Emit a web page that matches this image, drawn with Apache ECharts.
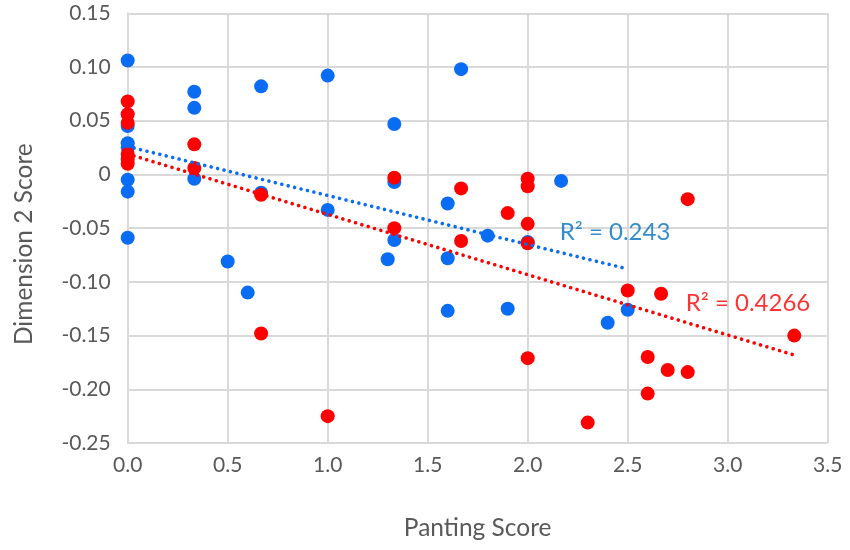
<!DOCTYPE html>
<html>
<head>
<meta charset="utf-8">
<script src="https://cdn.jsdelivr.net/npm/echarts@6/dist/echarts.min.js"></script>
<style>html,body{margin:0;padding:0;background:#fff}#c{width:850px;height:550px}</style>
</head>
<body>
<div id="c"></div>
<script>
var blueX = [0,0,0,0,0,0,0,0.333,0.333,0.333,0.5,0.6,0.667,0.667,1.0,1.0,1.3,1.333,1.333,1.333,1.6,1.6,1.6,1.667,1.8,1.9,2.0,2.167,2.4,2.5];
var blueY = [0.106,0.045,0.029,0.025,-0.005,-0.016,-0.059,0.077,0.062,-0.004,-0.081,-0.110,0.082,-0.017,0.092,-0.033,-0.079,0.047,-0.007,-0.061,-0.027,-0.078,-0.127,0.098,-0.057,-0.125,-0.063,-0.006,-0.138,-0.126];
var redX = [0,0,0,0,0,0,0.333,0.333,0.667,0.667,1.0,1.333,1.333,1.667,1.667,1.9,2.0,2.0,2.0,2.0,2.0,2.3,2.5,2.6,2.6,2.667,2.7,2.8,2.8,3.333];
var redY = [0.068,0.056,0.048,0.019,0.014,0.010,0.028,0.006,-0.019,-0.148,-0.225,-0.003,-0.050,-0.013,-0.062,-0.036,-0.004,-0.011,-0.046,-0.064,-0.171,-0.231,-0.108,-0.170,-0.204,-0.111,-0.182,-0.023,-0.184,-0.150];
var blueTrendX = [0, 2.5];
var blueTrendY = [0.026, -0.088];
var redTrendX = [0, 3.33];
var redTrendY = [0.019, -0.168];
var blueLabel = {x: 2.16, y: -0.054, text: 'R² = 0.243'};
var redLabel = {x: 2.79, y: -0.120, text: 'R² = 0.4266'};
var xTicks = {min: 0, max: 3.5, interval: 0.5};
var yTicks = {min: -0.25, max: 0.15, interval: 0.05};

function zip(a, b) { return a.map(function (v, i) { return [v, b[i]]; }); }

var FONT = 'Lato';
var TXT = '#595959';
var GRID = '#d9d9d9';
var BLUE = '#0a6cf2';
var RED = '#ff0000';
var dotStyle = function (c) {
  return { color: c, width: 3.6, type: [0.01, 6.6], cap: 'round' };
};

var chart = echarts.init(document.getElementById('c'), null, {renderer: 'canvas'});
chart.setOption({
  animation: false,
  backgroundColor: '#fff',
  grid: { left: 127.7, right: 22.3, top: 13.3, bottom: 107, containLabel: false },
  xAxis: {
    type: 'value', min: xTicks.min, max: xTicks.max, interval: xTicks.interval,
    name: 'Panting Score', nameLocation: 'middle', nameGap: 73,
    nameTextStyle: { fontFamily: FONT, fontSize: 24.5, color: TXT },
    axisLine: { show: true, lineStyle: { color: GRID, width: 2 } },
    axisTick: { show: false },
    splitLine: { show: true, lineStyle: { color: GRID, width: 2 } },
    axisLabel: { fontFamily: FONT, fontSize: 21, color: TXT, margin: 12,
      formatter: function (v) { return v.toFixed(1); } }
  },
  yAxis: {
    type: 'value', min: yTicks.min, max: yTicks.max, interval: yTicks.interval,
    name: 'Dimension 2 Score', nameLocation: 'middle', nameGap: 91,
    nameTextStyle: { fontFamily: FONT, fontSize: 24.5, color: TXT, padding: [0, 32, 0, 0] },
    axisLine: { show: true, onZero: false, lineStyle: { color: GRID, width: 2 } },
    axisTick: { show: false },
    splitLine: { show: true, lineStyle: { color: GRID, width: 2 } },
    axisLabel: { fontFamily: FONT, fontSize: 21, color: TXT, margin: 17,
      formatter: function (v) { return Math.abs(v) < 1e-9 ? '0' : v.toFixed(2); } }
  },
  series: [
    { type: 'scatter', data: zip(blueX, blueY), symbolSize: 14,
      itemStyle: { color: BLUE, opacity: 1 }, z: 2 },
    { type: 'scatter', data: zip(redX, redY), symbolSize: 14,
      itemStyle: { color: RED, opacity: 1 }, z: 3 },
    { type: 'line', data: zip(blueTrendX, blueTrendY), symbol: 'none',
      lineStyle: dotStyle(BLUE), z: 4 },
    { type: 'line', data: zip(redTrendX, redTrendY), symbol: 'none',
      lineStyle: dotStyle(RED), z: 4 },
    { type: 'scatter', data: [[blueLabel.x, blueLabel.y]], symbolSize: 0, z: 5,
      label: { show: true, position: 'right', distance: 0, formatter: blueLabel.text,
        fontFamily: FONT, fontSize: 24, color: '#0070c0' } },
    { type: 'scatter', data: [[redLabel.x, redLabel.y]], symbolSize: 0, z: 5,
      label: { show: true, position: 'right', distance: 0, formatter: redLabel.text,
        fontFamily: FONT, fontSize: 24, color: RED } }
  ]
});
</script>
</body>
</html>
